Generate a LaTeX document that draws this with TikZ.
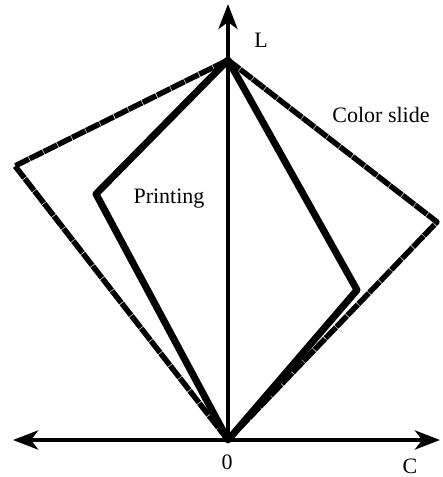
\documentclass[tikz,border=0pt]{standalone}
\usepackage{fontspec}
\setmainfont{Liberation Serif}
\usetikzlibrary{arrows.meta}
\begin{document}
\begin{tikzpicture}[x=1pt,y=-1pt,
  axis/.style={line width=4.5pt,-{Stealth[length=25pt,width=19pt,inset=7pt]}},
  printline/.style={line width=7pt,line join=round},
  slideline/.style={line width=5.5pt,line join=round,dash pattern=on 15pt off 0.8pt},
  lbl/.style={font=\fontsize{22}{24}\selectfont,inner sep=0pt}]
\useasboundingbox (0,0) rectangle (443,477);
\coordinate (O) at (228,440);
\coordinate (A) at (228,60);
\coordinate (Ltip) at (228,4);
\coordinate (Xl) at (13,440);
\coordinate (Xr) at (440,440);
\coordinate (PL) at (96,194);
\coordinate (PR) at (357,290);
\coordinate (CL) at (15,166);
\coordinate (CR) at (437,222);
% axes
\draw[axis] (O) -- (Ltip);
\draw[axis] (O) -- (Xl);
\draw[axis] (O) -- (Xr);
% color slide (dashed)
\draw[slideline] (O) -- (CL) -- (A) -- (CR) -- cycle;
% printing
\draw[printline] (O) -- (PL) -- (A) -- (PR) -- cycle;
% labels
\node[lbl] (lL) at (261,40) {L};
\node[lbl] (lC) at (410,466) {C};
\node[lbl] (l0) at (227,462) {0};
\node[lbl] (lprint) at (169,199) {Printing};
\node[lbl] (lslide) at (381,115) {Color slide};
\end{tikzpicture}
\end{document}
